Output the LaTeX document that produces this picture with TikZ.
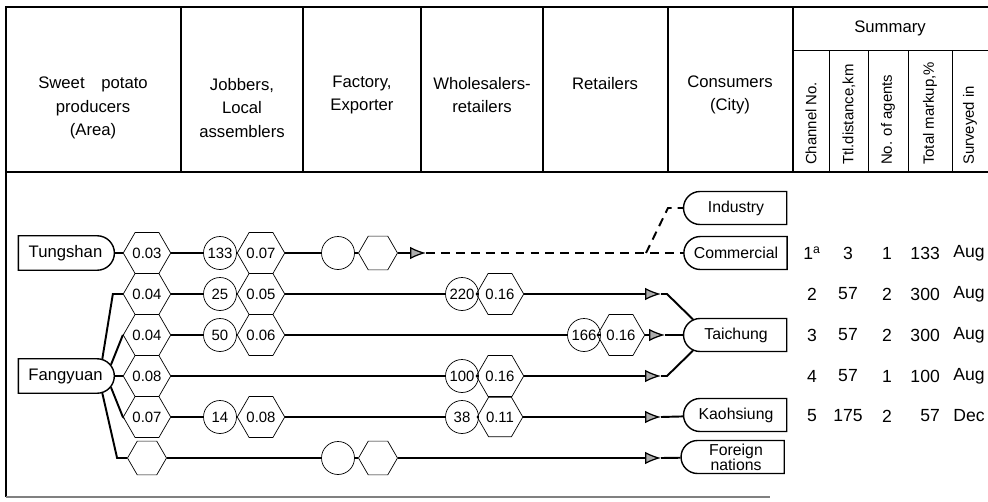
\documentclass[tikz,border=0pt]{standalone}
\usepackage{fontspec}
\setmainfont{Liberation Sans}
\usetikzlibrary{arrows.meta, shapes.geometric, shapes.misc, calc}
\tikzset{
    producer/.style={draw, thick, rounded rectangle, rounded rectangle left arc=none, minimum width=2.06cm, minimum height=0.69cm, inner xsep=2pt, font=\fontsize{9.5}{10}\selectfont},
    consumer/.style={draw, thick, rounded rectangle, rounded rectangle right arc=none, minimum width=2.1cm, minimum height=0.66cm, inner xsep=0.5pt, inner ysep=1pt, font=\fontsize{9}{8.5}\selectfont},
    price/.style={draw, regular polygon, regular polygon sides=6, minimum size=0.78cm, inner sep=0pt, font=\fontsize{8.5}{9}\selectfont},
    agent/.style={draw, circle, minimum size=0.66cm, inner sep=0pt, font=\fontsize{8.5}{9}\selectfont},
    route/.style={line width=1.1pt},
    flowtip/.style={-{Latex[length=9pt, width=7pt, line width=0.7pt, fill=gray!65]}},
    dashroute/.style={route, dash pattern=on 5pt off 3.5pt},
    rule/.style={line width=0.8pt},
    headtxt/.style={align=center, font=\fontsize{9.5}{13.5}\selectfont},
    colhead/.style={rotate=90, anchor=west, inner sep=1pt, font=\fontsize{8.5}{9}\selectfont},
    cell/.style={font=\fontsize{10}{11}\selectfont},
    }

\begin{document}
\begin{tikzpicture}[x=0.02cm, y=-0.02cm]
    \useasboundingbox (0,0) rectangle (988,501);

    % table frame
    \draw[rule] (988,7) -- (6,7) -- (6,497);
    \draw[rule] (6,172) -- (988,172);
    \draw[rule] (181,7) -- (181,172) (303,7) -- (303,172) (421,7) -- (421,172)
                (543,7) -- (543,172) (668,7) -- (668,172) (793,7) -- (793,172);
    \draw (793,50) -- (988,50);
    \draw (829,50) -- (829,172) (868,50) -- (868,172) (908,50) -- (908,172) (952,50) -- (952,172);
    \draw[rule, gray] (6,497) -- (770,497);

    % column heads
    \node[headtxt] (hprod) at (93,108) {Sweet\quad potato\\producers\\(Area)};
    \node[headtxt] (hjob)  at (242,108) {Jobbers,\\Local\\assemblers};
    \node[headtxt] (hfac)  at (362,95) {Factory,\\Exporter};
    \node[headtxt] (hwhol) at (482,95) {Wholesalers-\\retailers};
    \node[headtxt] (hret)  at (605,84) {Retailers};
    \node[headtxt] (hcons) at (730,95) {Consumers\\(City)};
    \node[headtxt] (hsum)  at (890,28) {Summary};
    \node[colhead] (hch) at (811,167) {Channel No.};
    \node[colhead] (hkm) at (849,167) {Ttl.distance,km};
    \node[colhead] (hag) at (888,167) {No. of agents};
    \node[colhead] (hmk) at (930,167) {Total markup,\%};
    \node[colhead] (hmo) at (970,167) {Surveyed in};

    % producers and consumers
    \node[producer] (tung) at (65.5,253) {Tungshan};
    \node[producer] (fang) at (65.5,376) {Fangyuan};
    \node[consumer] (ind)   at (736,208) {Industry};
    \node[consumer] (comm)  at (736,253) {Commercial};
    \node[consumer] (taich) at (736,335) {Taichung};
    \node[consumer] (kaoh)  at (736,415) {Kaohsiung};
    \node[consumer, align=center] (forn) at (736,457) {Foreign\\nations};

    % channel 1
    \node[price] (h1a) at (147,253) {0.03};
    \node[agent] (c1a) at (220,253) {133};
    \node[price] (h1b) at (261,253) {0.07};
    \node[agent] (c1b) at (338,253) {};
    \node[price] (h1c) at (378,253) {};
    \coordinate (a1) at (426,253);
    \coordinate (j1) at (646,253);
    \coordinate (k1) at (668,208);
    \draw[route] (tung) -- (h1a) -- (c1a) -- (h1b) -- (c1b) -- (h1c);
    \draw[route, flowtip] (h1c) -- (a1);
    \draw[dashroute] (a1) -- (comm);
    \draw[dashroute] (j1) -- (k1) -- (ind);

    % channel 2
    \node[price] (h2a) at (147,294) {0.04};
    \node[agent] (c2a) at (220,294) {25};
    \node[price] (h2b) at (261,294) {0.05};
    \node[agent] (c2b) at (462,294) {220};
    \node[price] (h2c) at (500,294) {0.16};
    \coordinate (a2) at (661,294);
    \draw[route] (fang.25) -- ($(h2a.west)+(-10,0)$) -- (h2a) -- (c2a) -- (h2b) -- (c2b) -- (h2c);
    \draw[route, flowtip] (h2c) -- (a2);
    \draw[route] (a2) -- ++(6,0) -- (taich.160);

    % channel 3
    \node[price] (h3a) at (147,335) {0.04};
    \node[agent] (c3a) at (220,335) {50};
    \node[price] (h3b) at (261,335) {0.06};
    \node[agent] (c3b) at (584,335) {166};
    \node[price] (h3c) at (621,335) {0.16};
    \coordinate (a3) at (665,335);
    \draw[route] (fang.14) -- (h3a.west) -- (h3a) -- (c3a) -- (h3b) -- (c3b) -- (h3c);
    \draw[route, flowtip] (h3c) -- (a3);
    \draw[route] (a3) -- (taich);

    % channel 4
    \node[price] (h4a) at (147,376) {0.08};
    \node[agent] (c4a) at (462,376) {100};
    \node[price] (h4b) at (500,376) {0.16};
    \coordinate (a4) at (661,376);
    \draw[route] (fang) -- (h4a) -- (c4a) -- (h4b);
    \draw[route, flowtip] (h4b) -- (a4);
    \draw[route] (a4) -- ++(6,0) -- (taich.200);

    % channel 5
    \node[price] (h5a) at (147,417) {0.07};
    \node[agent] (c5a) at (220,417) {14};
    \node[price] (h5b) at (261,417) {0.08};
    \node[agent] (c5b) at (462,417) {38};
    \node[price] (h5c) at (500,417) {0.11};
    \coordinate (a5) at (661,417);
    \draw[route] (fang.-14) -- (h5a.west) -- (h5a) -- (c5a) -- (h5b) -- (c5b) -- (h5c);
    \draw[route, flowtip] (h5c) -- (a5);
    \draw[route] (a5) -- (kaoh);

    % export
    \node[price] (h6a) at (147,458) {};
    \node[agent] (c6a) at (338,458) {};
    \node[price] (h6b) at (378,458) {};
    \coordinate (a6) at (661,458);
    \draw[route] (fang.-25) -- ($(h6a.west)+(-10,0)$) -- (h6a) -- (c6a) -- (h6b);
    \draw[route, flowtip] (h6b) -- (a6);
    \draw[route] (a6) -- (forn);

    % summary
    \node[cell] (ch1) at (812,253) {1\textsuperscript{a}};
    \node[cell] (km1) at (848,253) {3};
    \node[cell] (ag1) at (887,253) {1};
    \node[cell, anchor=east] (mk1) at (946,253) {133};
    \node[cell] (mo1) at (969,253) {Aug};
    \node[cell] (ch2) at (812,294) {2};
    \node[cell] (km2) at (848,294) {57};
    \node[cell] (ag2) at (887,294) {2};
    \node[cell, anchor=east] (mk2) at (946,294) {300};
    \node[cell] (mo2) at (969,294) {Aug};
    \node[cell] (ch3) at (812,335) {3};
    \node[cell] (km3) at (848,335) {57};
    \node[cell] (ag3) at (887,335) {2};
    \node[cell, anchor=east] (mk3) at (946,335) {300};
    \node[cell] (mo3) at (969,335) {Aug};
    \node[cell] (ch4) at (812,376) {4};
    \node[cell] (km4) at (848,376) {57};
    \node[cell] (ag4) at (887,376) {1};
    \node[cell, anchor=east] (mk4) at (946,376) {100};
    \node[cell] (mo4) at (969,376) {Aug};
    \node[cell] (ch5) at (812,416) {5};
    \node[cell] (km5) at (848,416) {175};
    \node[cell] (ag5) at (887,416) {2};
    \node[cell, anchor=east] (mk5) at (946,416) {57};
    \node[cell] (mo5) at (969,416) {Dec};
\end{tikzpicture}
\end{document}
